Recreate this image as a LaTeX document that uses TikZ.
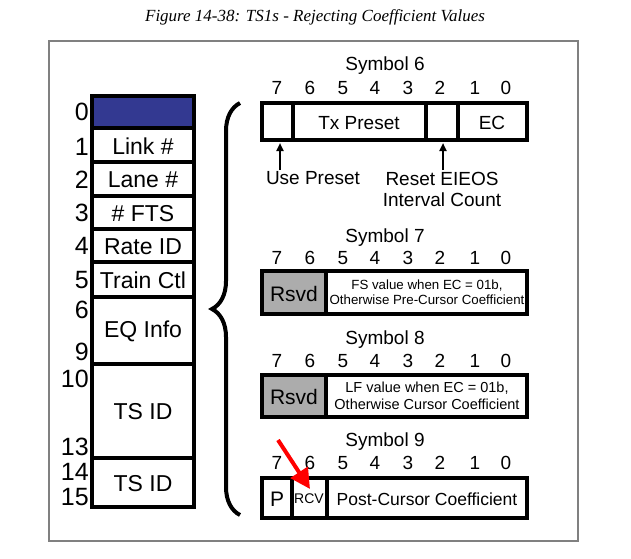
\documentclass[tikz,border=0pt]{standalone}
\usepackage{fontspec}
\setmainfont{Liberation Sans}
\newfontfamily\capfont{Liberation Serif}
\usetikzlibrary{decorations.pathreplacing,arrows.meta}
\begin{document}
\begin{tikzpicture}[x=1pt,y=-1pt,
  cell/.style={draw=black,line width=4pt},
  lbl/.style={font=\fontsize{23}{25}\selectfont,inner sep=0pt},
  num/.style={font=\fontsize{25}{26}\selectfont,inner sep=0pt,anchor=east},
  bit/.style={font=\fontsize{19}{20}\selectfont,inner sep=0pt},
  sym/.style={font=\fontsize{19}{21}\selectfont,inner sep=0pt},
  small/.style={font=\fontsize{13.3}{15}\selectfont,inner sep=0pt,align=center}]
\useasboundingbox (0,0) rectangle (631,558);
\fill[white] (0,0) rectangle (631,558);
\node[font=\capfont\itshape\fontsize{17}{19}\selectfont] (cap) at (315,17) {Figure 14-38: TS1s - Rejecting Coefficient Values};
\draw[gray,line width=1.2pt] (49,41) rectangle (578,541);
% left column
\fill[fill={rgb,255:red,51;green,57;blue,145}] (92,96) rectangle (194,128);
\foreach \a/\b/\t/\n in {128/162/{Link \#}/r1,162/196/{Lane \#}/r2,196/229/{\# FTS}/r3,229/262/{Rate ID}/r4,262/297/{Train Ctl}/r5,297/364/{EQ Info}/r6,364/458/{TS ID}/r7,458/507/{TS ID}/r8}{
  \draw[cell] (92,\a) rectangle (194,\b);
  \node[lbl] (\n) at (143,{(\a+\b)/2+1}) {\t};}
\draw[cell] (92,96) rectangle (194,128);
\foreach \v/\y/\n in {0/112/n0,1/147/n1,2/180/n2,3/213/n3,4/246/n4,5/280/n5,6/310/n6,9/352/n9,10/379/n10,13/447/n13,14/472/n14,15/497/n15}
  \node[num] (\n) at (89,\y) {\v};
% brace
\draw[line width=4pt,decorate,decoration={brace,amplitude=28pt,aspect=0.5}] (240,515) -- (240,103);
% bit numbers
\foreach \s/\yl/\yb in {6/66/88,7/238/258,8/340/361,9/442/463}{
  \node[sym] (s\s) at (385,\yl) {Symbol \s};
  \foreach \b/\x in {7/277,6/310,5/343,4/375,3/408,2/440,1/475,0/506}
    \node[bit] (b\s\b) at (\x,\yb) {\b};}
% Symbol 6
\draw[cell] (262,103) rectangle (527,140);
\draw[cell] (293,103) -- (293,140) (426,103) -- (426,140) (458,103) -- (458,140);
\node[sym] (tx) at (359,123) {Tx Preset};
\node[sym] (ec) at (492,123) {EC};
\coordinate (u7) at (280,143);
\coordinate (u2) at (443,143);
\node[sym,anchor=north] (up) at (313,171) {Use Preset};
\node[sym,anchor=north,align=center] (re) at (442,172) {Reset EIEOS\\Interval Count};
\draw[line width=2.5pt,-{Triangle[length=8pt,width=7pt]}] (280,170) -- (u7);
\draw[line width=2.5pt,-{Triangle[length=8pt,width=7pt]}] (443,170) -- (u2);
% Symbol 7
\fill[gray!65] (262,271) rectangle (326,314);
\draw[cell] (262,271) rectangle (527,314);
\draw[cell] (326,271) -- (326,314);
\node[sym,font=\fontsize{21}{22}\selectfont] (r7) at (294,294) {Rsvd};
\node[small] (t7) at (427,292) {FS value when EC = 01b,\\Otherwise Pre-Cursor Coefficient};
% Symbol 8
\fill[gray!65] (262,375) rectangle (326,417);
\draw[cell] (262,375) rectangle (527,417);
\draw[cell] (326,375) -- (326,417);
\node[sym,font=\fontsize{21}{22}\selectfont] (r8) at (294,397) {Rsvd};
\node[small,font=\fontsize{14.5}{16.5}\selectfont] (t8) at (427,396) {LF value when EC = 01b,\\Otherwise Cursor Coefficient};
% Symbol 9
\draw[cell] (262,478) rectangle (527,518);
\draw[cell] (292,478) -- (292,518) (327,478) -- (327,518);
\node[sym,font=\fontsize{21}{22}\selectfont] (p) at (277,499) {P};
\node[small,font=\fontsize{14}{16}\selectfont] (rcv) at (309,499) {RCV};
\coordinate (at) at (278,440);
\node[sym,font=\fontsize{17.5}{20}\selectfont] (pc) at (427,499) {Post-Cursor Coefficient};
\draw[red,line width=4pt,-{Triangle[length=20pt,width=20pt]}] (at) -- (310,489);
\end{tikzpicture}
\end{document}
